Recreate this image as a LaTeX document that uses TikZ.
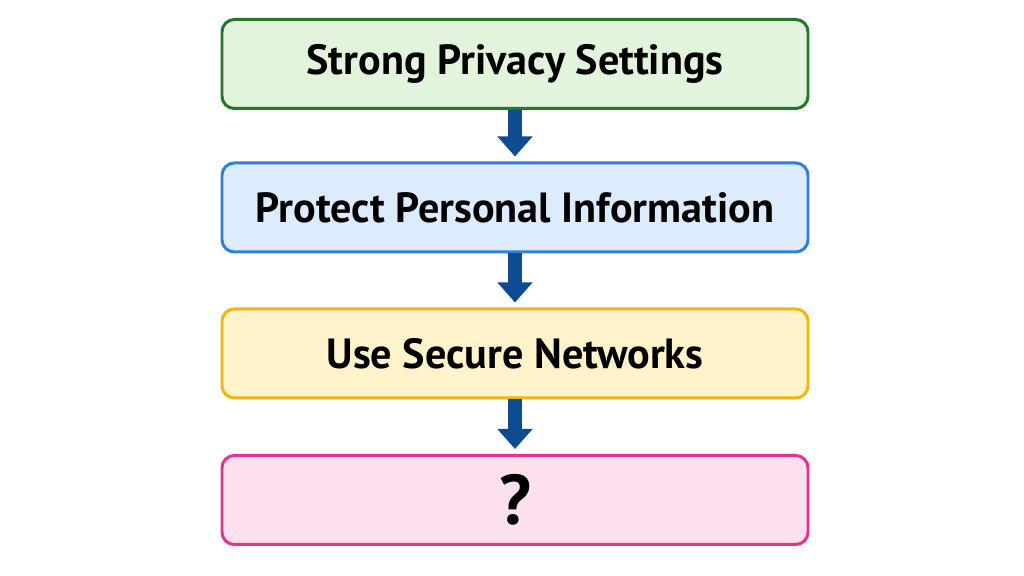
\documentclass[tikz,border=0pt]{standalone}
\usepackage{fontspec}
\setmainfont{PT Sans}
\usepackage{tikz}
\usetikzlibrary{arrows.meta, positioning}
\definecolor{greenline}{RGB}{34,120,40}
\definecolor{greenfill}{RGB}{226,244,220}
\definecolor{blueline}{RGB}{46,128,216}
\definecolor{bluefill}{RGB}{221,236,253}
\definecolor{yellowline}{RGB}{245,180,10}
\definecolor{yellowfill}{RGB}{255,243,204}
\definecolor{pinkline}{RGB}{232,50,136}
\definecolor{pinkfill}{RGB}{253,224,238}
\definecolor{arrowblue}{RGB}{14,76,146}

\begin{document}
\begin{tikzpicture}[
    stepbox/.style={draw, line width=1.7pt, minimum width=11.72cm, minimum height=1.78cm, rounded corners=7pt, font=\fontsize{24}{28}\selectfont\bfseries, align=center},
    arrow/.style={-{Triangle[width=0.68cm, length=0.4cm]}, line width=0.28cm, arrowblue, shorten >=0.1cm}
]
    \useasboundingbox (0,0) rectangle (20.48,11.52);
    \node[stepbox, draw=greenline, fill=greenfill] (privacy) at (10.3,10.24) {Strong Privacy Settings};
    \node[stepbox, draw=blueline, fill=bluefill] (protect) at (10.3,7.37) {Protect Personal Information};
    \node[stepbox, draw=yellowline, fill=yellowfill] (networks) at (10.3,4.45) {Use Secure Networks};
    \node[stepbox, draw=pinkline, fill=pinkfill, font=\fontsize{40}{44}\selectfont\bfseries] (unknown) at (10.3,1.52) {?};
    
    \draw[arrow] (privacy.south) -- (protect.north);
    \draw[arrow] (protect.south) -- (networks.north);
    \draw[arrow] (networks.south) -- (unknown.north);
\end{tikzpicture}
\end{document}
